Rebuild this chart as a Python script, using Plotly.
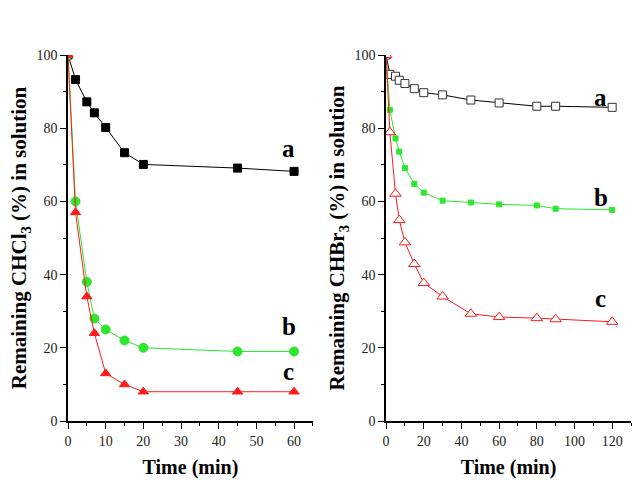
import plotly.graph_objects as go

# Left panel: CHCl3
t_cl = [0, 2, 5, 7, 10, 15, 20, 45, 60]
cl_a = [100, 93.3, 87.2, 84.2, 80.2, 73.3, 70.1, 69.1, 68.2]
cl_b = [100, 60, 38, 28, 25, 22, 20, 19, 19]
cl_c = [100, 57, 34, 24, 13, 10, 8, 8, 8]

# Right panel: CHBr3
t_br = [0, 2, 5, 7, 10, 15, 20, 30, 45, 60, 80, 90, 120]
br_a = [100, 94.7, 94.2, 93.1, 92.2, 90.8, 89.7, 89.1, 87.7, 86.9, 86.0, 86.0, 85.7]
br_b = [100, 85.0, 77.2, 73.6, 69.1, 64.8, 62.4, 60.2, 59.7, 59.2, 58.9, 58.0, 57.7]
br_c = [100, 78.9, 62.1, 54.9, 48.8, 42.9, 37.7, 34.0, 29.3, 28.4, 28.1, 27.8, 27.1]

GREEN = "#2ee62e"
RED = "#ff1a1a"
FONT = "Liberation Serif"

fig = go.Figure()

def add(x, y, color, symbol, size, axis, line_color=None, mline=None):
    fig.add_trace(go.Scatter(
        x=x, y=y, mode="lines+markers", xaxis="x" + axis, yaxis="y" + axis,
        line=dict(color=line_color or color, width=1),
        marker=dict(symbol=symbol, size=size, color=color,
                    line=dict(color=mline or color, width=1)),
        showlegend=False, cliponaxis=True))

add(t_cl, cl_a, "black", "square", 8, "")
add(t_cl, cl_b, GREEN, "circle", 9, "")
add(t_cl, cl_c, RED, "triangle-up", 9, "")

add(t_br, br_a, "white", "square", 8, "2", line_color="black", mline="#333333")
add(t_br, br_b, GREEN, "square", 5, "2")
add(t_br, br_c, "white", "triangle-up", 10, "2", line_color=RED, mline=RED)

tickf = dict(family=FONT, size=14, color="#222222")
xtitlef = dict(family=FONT, size=20, color="black", weight="bold")
ytitlef = dict(family=FONT, size=21, color="black", weight="bold")

def xax(domain, rng, dtick, anchor):
    return dict(domain=domain, range=rng, dtick=dtick, tick0=0, anchor=anchor,
                automargin=False,
                showgrid=False, zeroline=False, showline=True, linecolor="black",
                linewidth=1.5, ticks="outside", ticklen=6, tickwidth=1.2,
                tickcolor="black", tickfont=tickf,
                minor=dict(ticks="outside", ticklen=3, dtick=dtick / 2,
                           tickcolor="black", tickwidth=1),
                title=dict(text="Time (min)", font=xtitlef, standoff=12))

def yax(anchor, title):
    return dict(domain=[0, 1], range=[0, 100], dtick=20, tick0=0, anchor=anchor,
                automargin=False,
                showgrid=False, zeroline=False, showline=True, linecolor="black",
                linewidth=1.5, ticks="outside", ticklen=6, tickwidth=1.2,
                tickcolor="black", tickfont=tickf,
                minor=dict(ticks="outside", ticklen=3, dtick=10,
                           tickcolor="black", tickwidth=1),
                title=dict(text=title, font=ytitlef, standoff=4))

fig.update_layout(
    width=644, height=484,
    margin=dict(l=68, r=13, t=55, b=63),
    paper_bgcolor="white", plot_bgcolor="white",
    xaxis=xax([0, 0.435], [0, 65], 10, "y"),
    yaxis=yax("x", "Remaining CHCl<sub>3</sub> (%) in solution"),
    xaxis2=xax([0.565, 1], [0, 130], 20, "y2"),
    yaxis2=yax("x2", "Remaining CHBr<sub>3</sub> (%) in solution"),
)

labf = dict(family=FONT, size=25, color="black", weight="bold")
labels = [("a", 58.6, 74.5, ""), ("b", 58.6, 25.8, ""), ("c", 58.6, 13.5, ""),
          ("a", 114, 88.5, "2"), ("b", 114, 61, "2"), ("c", 114, 33.5, "2")]
for txt, x, y, ax in labels:
    fig.add_annotation(text=txt, x=x, y=y, xref="x" + ax, yref="y" + ax,
                       showarrow=False, font=labf)

fig.write_html("out.html")
